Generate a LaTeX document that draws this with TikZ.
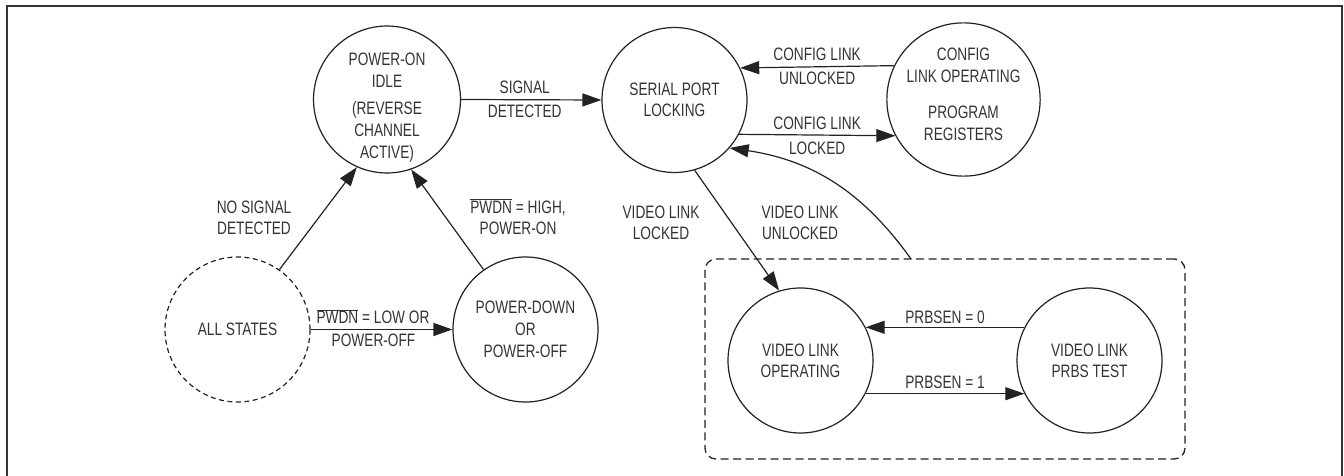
\documentclass[tikz,border=0pt]{standalone}
\usepackage{fontspec}
\setmainfont[FakeStretch=0.76]{Liberation Sans}
\usetikzlibrary{arrows.meta}
\definecolor{ink}{HTML}{222222}
\definecolor{txt}{HTML}{333333}
\definecolor{frameclr}{HTML}{333333}
\newcommand{\labfont}{\fontsize{18}{22}\selectfont}
\newcommand{\pwdnbar}{$\overline{\hbox{PWDN}}$}
\begin{document}
\begin{tikzpicture}[x=1pt,y=-1pt,
  state/.style={circle, draw=ink, line width=1.2pt, minimum size=145pt, inner sep=0pt, align=center, text=txt, font=\labfont},
  dstate/.style={state, dash pattern=on 5pt off 3.5pt},
  conn/.style={draw=ink, line width=1.2pt, -{Triangle[length=19pt,width=13pt]}},
  lbl/.style={text=txt, font=\labfont, align=center, inner sep=0pt},
  elab/.style={text=txt, font=\labfont, inner sep=5pt},
  frame/.style={draw=frameclr, line width=2pt},
  group/.style={draw=ink, line width=1.3pt, dash pattern=on 8pt off 4.5pt, rounded corners=11pt, minimum width=480pt, minimum height=200pt, inner sep=0pt}
]
\useasboundingbox (0,0) rectangle (1344,476);
\draw[frame] (7,476) -- (7,6) -- (1342,6) -- (1342,476);

% states
\node[state] (idle) at (387,99.5) {\rule{0pt}{29pt}POWER-ON\\IDLE\\[5pt](REVERSE\\CHANNEL\\ACTIVE)};
\node[state] (serial) at (674.5,100) {SERIAL PORT\\[-1pt]LOCKING};
\node[state] (config) at (963.5,99.5) {CONFIG\\LINK OPERATING\\[14pt]PROGRAM\\REGISTERS\rule[-11pt]{0pt}{11pt}};
\node[dstate] (all) at (237.5,329.5) {ALL STATES};
\node[state] (pdown) at (525.5,329.5) {POWER-DOWN\\OR\\POWER-OFF};
\node[group] (vgroup) at (945,359) {};
\node[state] (vop) at (800.5,360.5) {VIDEO LINK\\[-1pt]OPERATING};
\node[state] (prbs) at (1089.5,360.5) {VIDEO LINK\\[-1pt]PRBS TEST};
\coordinate (unlk) at (911,259);

% free labels
\node[lbl] (nosig) at (254,217.5) {NO SIGNAL\\[-1pt]DETECTED};
\node[lbl] (pwhigh) at (518,216.5) {\pwdnbar{} = HIGH,\\[-1pt]POWER-ON};
\node[lbl] (vlocked) at (661,222.5) {VIDEO LINK\\[-1pt]LOCKED};
\node[lbl] (vunlocked) at (800,222.5) {VIDEO LINK\\[-1pt]UNLOCKED};

% connectors
\draw[conn] (idle.east) -- node[elab,above,xshift=-6.5pt] (sig1) {SIGNAL} node[elab,below,xshift=-6.5pt] (sig2) {DETECTED} (serial.west);
\draw[conn] (config.154) -- node[elab,above,inner sep=6pt] (cu1) {CONFIG LINK} node[elab,below,inner sep=5pt] (cu2) {UNLOCKED} (serial.26);
\draw[conn] (serial.-28) -- node[elab,above,inner sep=5pt] (cl1) {CONFIG LINK} node[elab,below,inner sep=6pt] (cl2) {LOCKED} (config.-152);
\draw[conn] (all.55) -- (idle.-114);
\draw[conn] (pdown.125) -- (idle.-71);
\draw[conn] (all.east) -- node[elab,above,xshift=-8.5pt] (pl1) {\pwdnbar{} = LOW OR} node[elab,below,xshift=-8pt,inner sep=3.5pt] (pl2) {POWER-OFF} (pdown.west);
\draw[conn] (serial.-74) -- (vop.107);
\draw[conn] (unlk) to[bend right=23] (serial.-41);
\draw[conn] (prbs.153) -- node[elab,above,inner sep=3.5pt] (p0) {PRBSEN = 0} (vop.27);
\draw[conn] (vop.-27) -- node[elab,above,inner sep=4pt] (p1) {PRBSEN = 1} (prbs.-153);
\end{tikzpicture}
\end{document}
